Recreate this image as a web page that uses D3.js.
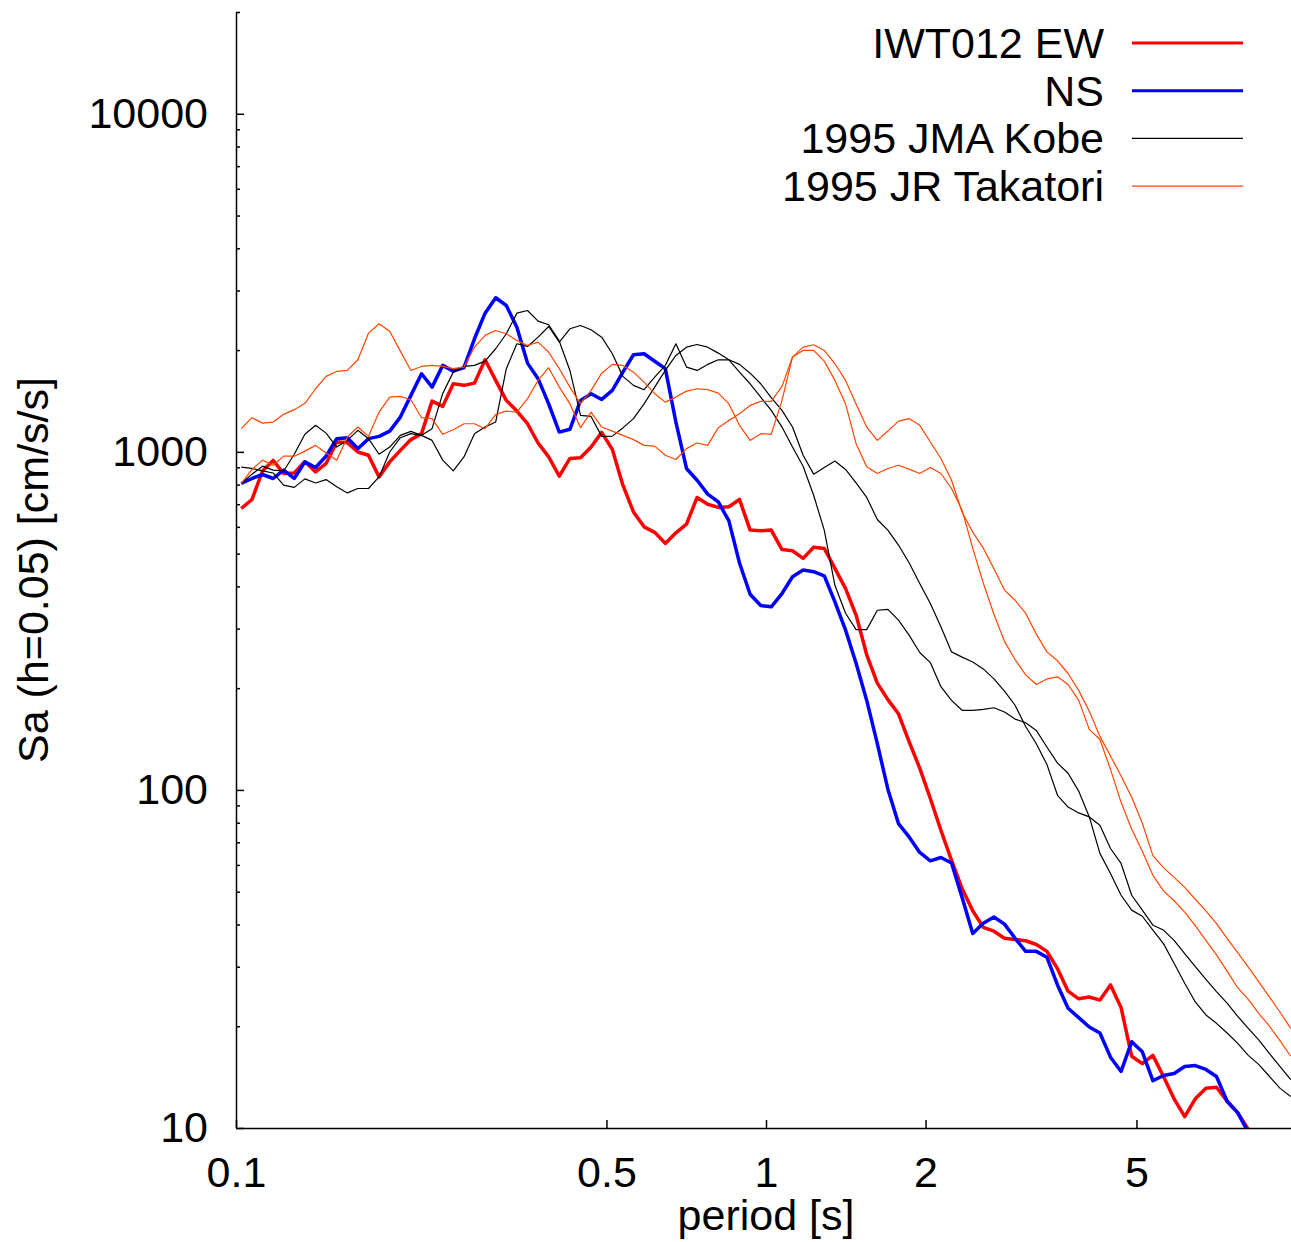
<!DOCTYPE html>
<html>
<head>
<meta charset="utf-8">
<script src="https://cdn.jsdelivr.net/npm/d3@7"></script>
<style>
  body { margin: 0; background: #fff; }
  svg { display: block; }
</style>
</head>
<body>
<svg width="1291" height="1242"></svg>
<script>

// response spectra, h=0.05 -- periods [s] shared by all records
let periods = [
  0.1023, 0.1072, 0.1122, 0.1175, 0.1230, 0.1288, 0.1349, 0.1413, 0.1479, 0.1549,
  0.1622, 0.1698, 0.1778, 0.1862, 0.1950, 0.2042, 0.2138, 0.2239, 0.2344, 0.2455,
  0.2570, 0.2692, 0.2818, 0.2951, 0.3090, 0.3236, 0.3388, 0.3548, 0.3715, 0.3890,
  0.4074, 0.4266, 0.4467, 0.4677, 0.4898, 0.5129, 0.5370, 0.5623, 0.5888, 0.6166,
  0.6457, 0.6761, 0.7079, 0.7413, 0.7762, 0.8128, 0.8511, 0.8913, 0.9333, 0.9772,
  1.023, 1.072, 1.122, 1.175, 1.230, 1.288, 1.349, 1.413, 1.479, 1.549,
  1.622, 1.698, 1.778, 1.862, 1.950, 2.042, 2.138, 2.239, 2.344, 2.455,
  2.570, 2.692, 2.818, 2.951, 3.090, 3.236, 3.388, 3.548, 3.715, 3.890,
  4.074, 4.266, 4.467, 4.677, 4.898, 5.129, 5.370, 5.623, 5.888, 6.166,
  6.457, 6.761, 7.079, 7.413, 7.762, 8.128, 8.511, 8.913, 9.333, 9.772
];

// IWT012 EW [cm/s/s]
let iwtEW = [
  680, 723, 878, 943, 863, 866, 936, 872, 924, 1069,
  1065, 999, 977, 843, 934, 1010, 1087, 1132, 1413, 1363,
  1590, 1573, 1597, 1872, 1627, 1420, 1320, 1211, 1062, 966,
  847, 956, 960, 1033, 1142, 1017, 797, 664, 600, 578,
  536, 576, 611, 733, 700, 685, 688, 723, 587, 584,
  587, 514, 510, 484, 522, 518, 452, 394, 329, 251,
  207, 185, 168, 139, 116, 94.3, 76.0, 61.9, 51.1, 43.9,
  39.2, 38.2, 36.4, 36.1, 35.8, 34.9, 33.3, 29.6, 25.4, 24.1,
  24.4, 23.9, 26.5, 22.7, 16.3, 15.5, 16.4, 14.2, 12.2, 10.8,
  12.2, 13.1, 13.2, 12.0, 11.1, 9.9
];

// IWT012 NS
let iwtNS = [
  806, 834, 857, 834, 883, 834, 934, 899, 971, 1094,
  1101, 1022, 1094, 1111, 1152, 1267, 1469, 1702, 1554, 1802,
  1733, 1774, 2160, 2571, 2856, 2710, 2338, 1830, 1646, 1386,
  1144, 1166, 1420, 1486, 1429, 1520, 1721, 1937, 1951, 1853,
  1762, 1225, 893, 824, 750, 711, 625, 469, 379, 351,
  348, 381, 427, 447, 442, 430, 360, 297, 237, 184,
  137, 100.5, 79.5, 72.6, 65.3, 61.7, 63.1, 60.8, 48.1, 37.6,
  40.3, 42.1, 40.1, 36.4, 33.3, 33.3, 32.0, 26.5, 22.6, 21.2,
  19.9, 19.1, 16.2, 14.7, 18.0, 16.8, 13.8, 14.3, 14.5, 15.2,
  15.3, 14.9, 14.2, 12.0, 11.1, 9.7
];

// 1995 JMA Kobe, two components
let kobeA = [
  901, 893, 878, 866, 797, 785, 832, 809, 828, 788,
  756, 779, 779, 843, 999, 1101, 1132, 1119, 1171, 1489,
  1721, 1789, 1802, 1855, 2018, 2235, 2571, 2619, 2435, 2376,
  2125, 1741, 1282, 1273, 1111, 1113, 1177, 1254, 1386, 1554,
  1741, 1928, 2040, 2078, 2040, 1959, 1872, 1721, 1590, 1452,
  1326, 1184, 1033, 907, 744, 587, 403, 333, 298, 298,
  340, 342, 318, 287, 255, 238, 202, 184, 172, 172,
  173, 175, 170, 162, 158, 150, 134, 120, 112, 99.2,
  83.2, 64.9, 56.6, 48.8, 44.1, 42.3, 38.5, 35.1, 30.7, 26.8,
  23.6, 21.6, 20.4, 19.1, 17.8, 16.4, 15.4, 14.2, 13.1, 12.4
];

let kobeB = [
  806, 859, 907, 883, 878, 984, 1127, 1198, 1136, 1033,
  1081, 1158, 1094, 984, 1033, 1119, 1150, 1119, 1081, 945,
  878, 966, 1132, 1184, 1225, 1762, 2088, 2050, 2184, 2349,
  2111, 2312, 2365, 2297, 2184, 1951, 1672, 1573, 1527, 1664,
  1802, 2088, 1781, 1741, 1814, 1872, 1872, 1814, 1709, 1590,
  1446, 1326, 1184, 977, 859, 899, 939, 887, 809, 733,
  631, 587, 530, 470, 408, 356, 304, 256, 247, 239,
  228, 213, 196, 178, 154, 137, 119, 96.4, 89.0, 85.5,
  83.2, 78.6, 67.1, 60.6, 48.8, 44.1, 39.8, 38.5, 35.9, 32.8,
  30.0, 27.5, 25.3, 23.4, 21.4, 19.7, 18.2, 16.6, 15.2, 13.9
];

// 1995 JR Takatori, two components
let takatoriA = [
  1171, 1262, 1216, 1225, 1291, 1333, 1392, 1537, 1672, 1729,
  1741, 1872, 2244, 2392, 2275, 1986, 1741, 1789, 1802, 1789,
  1762, 1781, 2040, 2210, 2286, 2235, 2136, 2064, 2111, 1971,
  1762, 1554, 1386, 1520, 1709, 1814, 1802, 1721, 1608, 1486,
  1403, 1452, 1512, 1537, 1527, 1492, 1386, 1198, 1081, 1132,
  1127, 1420, 1907, 1995, 1995, 1855, 1627, 1386, 1057, 903,
  863, 893, 913, 889, 863, 899, 863, 779, 672, 519,
  409, 331, 275, 243, 219, 205, 213, 216, 205, 184,
  151, 141, 115, 91.9, 76.5, 65.9, 55.9, 50.3, 47.0, 43.5,
  39.7, 35.9, 32.5, 29.1, 26.0, 24.0, 21.8, 20.0, 18.1, 16.3
];

let takatoriB = [
  806, 887, 945, 913, 971, 971, 1005, 1045, 992, 945,
  1106, 1184, 1111, 1311, 1452, 1459, 1426, 1262, 1254, 1127,
  1163, 1211, 1211, 1171, 1291, 1320, 1311, 1436, 1627, 1774,
  1554, 1386, 1179, 1311, 1184, 1152, 1119, 1087, 1045, 1040,
  977, 949, 1022, 1062, 1045, 1179, 1239, 1297, 1372, 1410,
  1410, 1562, 1907, 2040, 2074, 1995, 1822, 1627, 1386, 1184,
  1081, 1152, 1233, 1254, 1198, 1069, 956, 824, 663, 579,
  519, 451, 390, 364, 333, 289, 256, 241, 221, 197,
  171, 144, 126, 110, 95.1, 79.7, 63.9, 58.9, 55.1, 51.5,
  47.5, 43.9, 40.2, 36.4, 33.0, 29.9, 27.0, 24.4, 22.0, 19.7
];

let legendLabels = ['IWT012 EW', 'NS', '1995 JMA Kobe', '1995 JR Takatori'];

let xTicks = [0.1, 0.5, 1, 2, 5];
let yTicks = [10, 100, 1000, 10000];
let yMinorTicks = [
  20, 30, 40, 50, 60, 70, 80, 90,
  200, 300, 400, 500, 600, 700, 800, 900,
  2000, 3000, 4000, 5000, 6000, 7000, 8000, 9000,
  20000
];


let svg = d3.select('svg');
let font = "'Liberation Sans', Arial, Helvetica, sans-serif";
let fontSize = 43;

let plotLeft = 236;
let plotRight = 1296;
let plotTop = 12;
let plotBottom = 1128;

let x = d3.scaleLog()
  .domain([0.1, 10])
  .range([plotLeft, plotRight]);

let y = d3.scaleLog()
  .domain([10, 20000])
  .range([plotBottom, plotTop]);

svg.append('defs').append('clipPath')
  .attr('id', 'plotclip')
  .append('rect')
  .attr('x', plotLeft)
  .attr('y', plotTop)
  .attr('width', plotRight - plotLeft)
  .attr('height', plotBottom - plotTop);

// series: legend entry index, values, style
let series = [
  { key: 0, values: iwtEW, color: '#ff0000', width: 3.5 },
  { key: 1, values: iwtNS, color: '#0000ff', width: 3.5 },
  { key: 2, values: kobeA, color: '#000000', width: 1.2 },
  { key: 2, values: kobeB, color: '#000000', width: 1.2 },
  { key: 3, values: takatoriA, color: '#ff4500', width: 1.2 },
  { key: 3, values: takatoriB, color: '#ff4500', width: 1.2 }
];

let line = d3.line()
  .x( (d) => { return x(d.p); })
  .y( (d) => { return y(d.v); });

let plot = svg.append('g')
  .attr('clip-path', 'url(#plotclip)');

for ( let s of series ) {
  let pts = s.values.map( (v, i) => { return { p: periods[i], v: v }; });

  plot.append('path')
    .datum(pts)
    .attr('fill', 'none')
    .attr('stroke', s.color)
    .attr('stroke-width', s.width)
    .attr('stroke-linejoin', 'round')
    .attr('d', line);
}

//axes, ticks pointing inwards like gnuplot
let yAxis = d3.axisLeft(y)
  .tickValues(yTicks)
  .tickFormat(d3.format('d'))
  .tickSizeInner(-8)
  .tickSizeOuter(0)
  .tickPadding(28);

let yMinor = d3.axisLeft(y)
  .tickValues(yMinorTicks)
  .tickFormat('')
  .tickSizeInner(-4)
  .tickSizeOuter(0);

let xAxis = d3.axisBottom(x)
  .tickValues(xTicks)
  .tickFormat( (d) => { return d; })
  .tickSizeInner(-8)
  .tickSizeOuter(0)
  .tickPadding(28);

let gyMinor = svg.append('g')
  .attr('transform', `translate(${plotLeft},0)`)
  .call(yMinor);
gyMinor.select('.domain').remove();

let gy = svg.append('g')
  .attr('transform', `translate(${plotLeft},0)`)
  .call(yAxis);

let gx = svg.append('g')
  .attr('transform', `translate(0,${plotBottom})`)
  .call(xAxis);

for ( let g of [gy, gx, gyMinor] ) {
  g.attr('font-family', font)
    .attr('font-size', fontSize);
  g.selectAll('path, line')
    .attr('stroke', '#000')
    .attr('stroke-width', 1.5);
  g.selectAll('text')
    .attr('fill', '#000');
}

svg.append('text')
  .attr('x', (plotLeft + plotRight) / 2)
  .attr('y', 1230)
  .attr('text-anchor', 'middle')
  .attr('font-family', font)
  .attr('font-size', fontSize)
  .text('period [s]');

svg.append('text')
  .attr('transform', `translate(48,${(plotTop + plotBottom) / 2}) rotate(-90)`)
  .attr('text-anchor', 'middle')
  .attr('font-family', font)
  .attr('font-size', fontSize)
  .text('Sa (h=0.05) [cm/s/s]');

// legend, top right
let legend = svg.append('g');
let firstOf = legendLabels.map( (l, k) => { return series.find( (s) => { return s.key === k; }); });

legend.selectAll('g')
  .data(legendLabels)
  .enter().append('g')
  .attr('transform', (d, k) => { return `translate(0,${43 + k * 47.7})`; })
  .each( function(d, k) {
    let row = d3.select(this);
    let s = firstOf[k];

    row.append('text')
      .attr('x', 1104)
      .attr('y', 15)
      .attr('text-anchor', 'end')
      .attr('font-family', font)
      .attr('font-size', fontSize)
      .text(d);

    row.append('line')
      .attr('x1', 1132)
      .attr('x2', 1243)
      .attr('stroke', s.color)
      .attr('stroke-width', s.width === 3.5 ? 3 : 1.2);
  });

</script>
</body>
</html>
